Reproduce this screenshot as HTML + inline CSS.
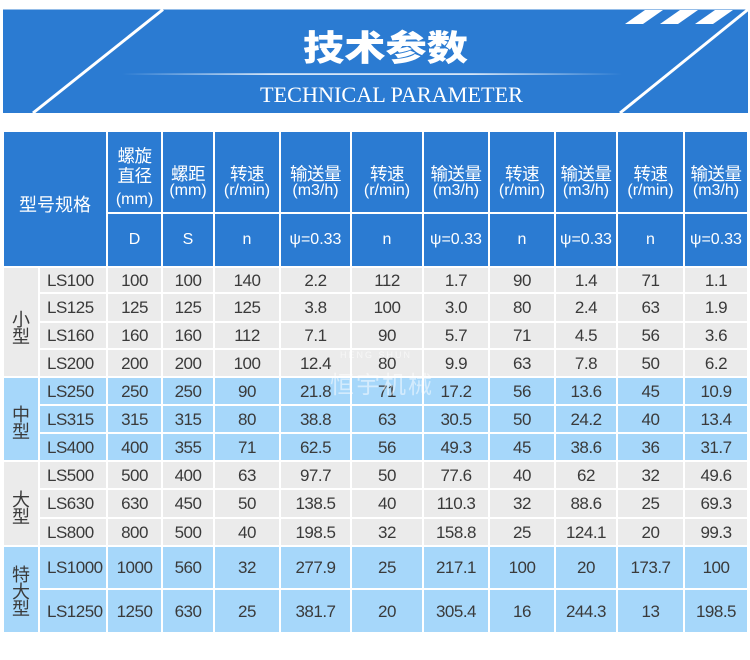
<!DOCTYPE html>
<html><head><meta charset="utf-8">
<style>
*{margin:0;padding:0;box-sizing:border-box}
html,body{width:750px;height:660px;background:#fff;overflow:hidden}
body{position:relative;font-family:"Liberation Sans","Noto Sans CJK SC",sans-serif}
#grid{position:absolute;left:4px;top:132px;width:743px;height:500px;display:grid;
grid-template-columns:34px 66px 53px 50px 64px 69px 70px 64px 64px 60px 65px 62px;
grid-template-rows:80px 52px 24px 27px 25px 26px 26px 26px 26px 26px 27px 26px 41px 42px;
gap:2px;background:#fff}
.r{display:contents}
.r>div{display:flex;align-items:center;justify-content:center;font-size:17px;color:#3a3a3a;letter-spacing:-0.5px;padding-top:1px}
.g>div,.gg{background:#ebebeb}
.b>div,.bb{background:#a6d7fa}
.r>div.l{justify-content:flex-start;padding-left:7px}
.hd>div{background:#2b7bd2;color:#fff}
.h1>div{display:block;text-align:center;padding-top:32.5px}
.cj{font-size:17.5px;line-height:17px;font-family:"Noto Sans CJK SC",sans-serif;letter-spacing:-0.5px}
.un{font-size:16px;line-height:17px;letter-spacing:0}
.h2>div{font-size:16px;letter-spacing:0;padding-top:0}
.grp{grid-column:1;display:block!important;text-align:center;font-size:18px;line-height:17px;color:#3a3a3a;font-family:"Noto Sans CJK SC",sans-serif;padding-top:6px}
.grpc{display:flex;align-items:center;justify-content:center}
.title{grid-column:1/3;grid-row:1/3;background:#2b7bd2;color:#fff;display:flex;align-items:center;justify-content:center;font-size:18px;font-family:"Noto Sans CJK SC",sans-serif;padding-top:10px}
.wm{position:absolute;color:rgba(255,255,255,0.5);font-family:"Noto Sans CJK SC",sans-serif}
</style></head><body>
<svg width="750" height="130" style="position:absolute;left:0;top:0">
<defs><linearGradient id="lg" x1="0" x2="1" y1="0" y2="0"><stop offset="0" stop-color="#fff" stop-opacity="0"/><stop offset=".3" stop-color="#fff" stop-opacity=".9"/><stop offset=".7" stop-color="#fff" stop-opacity=".9"/><stop offset="1" stop-color="#fff" stop-opacity="0"/></linearGradient></defs>
<rect x="3" y="9.5" width="745" height="103.5" fill="#2b7bd2"/>
<line x1="163" y1="9.5" x2="33" y2="113" stroke="#fff" stroke-width="3"/>
<line x1="748" y1="9.5" x2="620" y2="113" stroke="#fff" stroke-width="3"/>
<polygon points="645,10 663,10 643,24 625,24" fill="#fff"/>
<polygon points="680,10 698,10 678,24 660,24" fill="#fff"/>
<polygon points="715,10 733,10 713,24 695,24" fill="#fff"/>
<rect x="122" y="73.3" width="500" height="1.6" fill="url(#lg)"/>
<text x="303" y="60.5" font-family="Noto Sans CJK SC, sans-serif" font-weight="900" font-size="35" fill="#fff" textLength="165" lengthAdjust="spacingAndGlyphs">技术参数</text>
<text x="260" y="102" font-family="Liberation Serif, serif" font-size="22.5" fill="#fff" textLength="263" lengthAdjust="spacingAndGlyphs">TECHNICAL PARAMETER</text>
</svg>

<div id="grid">
<div class="title">型号规格</div>
<div class="grp gg" style="grid-row:3/7;padding-top:0;display:flex!important;flex-direction:column;align-items:center;justify-content:center"><div style="padding-top:12px">小<br>型</div></div>
<div class="grp bb" style="grid-row:7/10;padding-top:0;display:flex!important;flex-direction:column;align-items:center;justify-content:center"><div style="padding-top:8px">中<br>型</div></div>
<div class="grp gg" style="grid-row:10/13;padding-top:0;display:flex!important;flex-direction:column;align-items:center;justify-content:center"><div style="padding-top:8px">大<br>型</div></div>
<div class="grp bb" style="grid-row:13/15;padding-top:0;display:flex!important;flex-direction:column;align-items:center;justify-content:center"><div style="padding-top:4px">特<br>大<br>型</div></div>

<div class="r hd h1">
<div style="padding-top:13.5px"><div class="cj" style="line-height:20px">螺旋</div><div class="cj" style="line-height:20px">直径</div><div class="un" style="line-height:27px">(mm)</div></div>
<div><div class="cj">螺距</div><div class="un">(mm)</div></div>
<div><div class="cj">转速</div><div class="un">(r/min)</div></div>
<div><div class="cj">输送量</div><div class="un">(m3/h)</div></div>
<div><div class="cj">转速</div><div class="un">(r/min)</div></div>
<div><div class="cj">输送量</div><div class="un">(m3/h)</div></div>
<div><div class="cj">转速</div><div class="un">(r/min)</div></div>
<div><div class="cj">输送量</div><div class="un">(m3/h)</div></div>
<div><div class="cj">转速</div><div class="un">(r/min)</div></div>
<div><div class="cj">输送量</div><div class="un">(m3/h)</div></div>
</div>
<div class="r hd h2">
<div>D</div><div>S</div><div>n</div><div>ψ=0.33</div><div>n</div><div>ψ=0.33</div><div>n</div><div>ψ=0.33</div><div>n</div><div>ψ=0.33</div>
</div>

<div class="r g"><div class="l">LS100</div><div>100</div><div>100</div><div>140</div><div>2.2</div><div>112</div><div>1.7</div><div>90</div><div>1.4</div><div>71</div><div>1.1</div></div>
<div class="r g"><div class="l">LS125</div><div>125</div><div>125</div><div>125</div><div>3.8</div><div>100</div><div>3.0</div><div>80</div><div>2.4</div><div>63</div><div>1.9</div></div>
<div class="r g"><div class="l">LS160</div><div>160</div><div>160</div><div>112</div><div>7.1</div><div>90</div><div>5.7</div><div>71</div><div>4.5</div><div>56</div><div>3.6</div></div>
<div class="r g"><div class="l">LS200</div><div>200</div><div>200</div><div>100</div><div>12.4</div><div>80</div><div>9.9</div><div>63</div><div>7.8</div><div>50</div><div>6.2</div></div>
<div class="r b"><div class="l">LS250</div><div>250</div><div>250</div><div>90</div><div>21.8</div><div>71</div><div>17.2</div><div>56</div><div>13.6</div><div>45</div><div>10.9</div></div>
<div class="r b"><div class="l">LS315</div><div>315</div><div>315</div><div>80</div><div>38.8</div><div>63</div><div>30.5</div><div>50</div><div>24.2</div><div>40</div><div>13.4</div></div>
<div class="r b"><div class="l">LS400</div><div>400</div><div>355</div><div>71</div><div>62.5</div><div>56</div><div>49.3</div><div>45</div><div>38.6</div><div>36</div><div>31.7</div></div>
<div class="r g"><div class="l">LS500</div><div>500</div><div>400</div><div>63</div><div>97.7</div><div>50</div><div>77.6</div><div>40</div><div>62</div><div>32</div><div>49.6</div></div>
<div class="r g"><div class="l">LS630</div><div>630</div><div>450</div><div>50</div><div>138.5</div><div>40</div><div>110.3</div><div>32</div><div>88.6</div><div>25</div><div>69.3</div></div>
<div class="r g"><div class="l">LS800</div><div>800</div><div>500</div><div>40</div><div>198.5</div><div>32</div><div>158.8</div><div>25</div><div>124.1</div><div>20</div><div>99.3</div></div>
<div class="r b"><div class="l">LS1000</div><div>1000</div><div>560</div><div>32</div><div>277.9</div><div>25</div><div>217.1</div><div>100</div><div>20</div><div>173.7</div><div>100</div></div>
<div class="r b"><div class="l">LS1250</div><div>1250</div><div>630</div><div>25</div><div>381.7</div><div>20</div><div>305.4</div><div>16</div><div>244.3</div><div>13</div><div>198.5</div></div>
</div>

<div class="wm" style="left:330px;top:368px;font-size:24px;letter-spacing:2px;line-height:30px">恒宇机械</div>
<div class="wm" style="left:340px;top:350px;font-size:9px;letter-spacing:2px;font-family:'Liberation Sans',sans-serif;color:rgba(255,255,255,0.6)">HENG SHUN</div>
</body></html>
